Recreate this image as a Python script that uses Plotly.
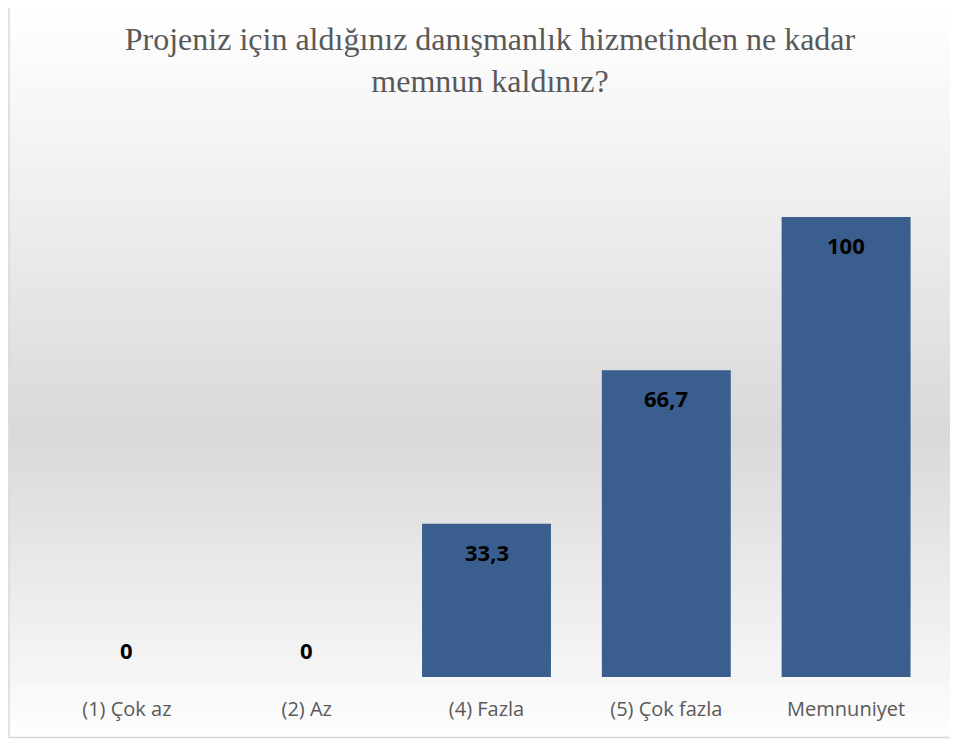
import plotly.graph_objects as go

categories = ["(1) Çok az", "(2) Az", "(4) Fazla", "(5) Çok fazla", "Memnuniyet"]
values = [0, 0, 33.3, 66.7, 100]
value_labels = ["0", "0", "33,3", "66,7", "100"]
title_text = "Projeniz için aldığınız danışmanlık hizmetinden ne kadar<br>memnun kaldınız?"

W, H = 958, 740
OFF = 8  # page body margin
ML, MR, MT = 36.5 - OFF, 21.5 + OFF, 125 - OFF
plot_h = 552
plot_w = 900
MB = H - MT - plot_h

def py(y_screen):
    y = y_screen - OFF
    return (MT + plot_h - y) / plot_h

def px(x_screen):
    x = x_screen - OFF
    return (x - ML) / plot_w

fig = go.Figure()
fig.add_trace(go.Bar(
    x=categories, y=values,
    marker=dict(color="#3A5E8E", line=dict(width=0)),
    width=0.717,
    hoverinfo="skip",
))

annotations = []
for c, v, t in zip(categories, values, value_labels):
    annotations.append(dict(
        x=c, y=v, xref="x", yref="y", text=t, showarrow=False,
        yshift=-28 if v > 0 else 27,
        font=dict(family="Open Sans", size=22, color="#000000", weight="bold"),
    ))

shapes = []
N = 80
def gray_at(y):
    top, mid, bot = 0, 430, 740
    if y <= mid:
        f = (y - top) / (mid - top)
        f = f ** 1.1
    else:
        f = (bot - y) / (bot - mid)
        f = f ** 0.9
    lo, hi = 217, 255
    return int(round(hi - (hi - lo) * f))

for i in range(N):
    y0 = i * H / N
    y1 = (i + 1) * H / N
    g = gray_at((y0 + y1) / 2)
    shapes.append(dict(type="rect", xref="paper", yref="paper",
                       x0=px(8), x1=px(W + 10), y0=py(y1 + 0.5), y1=py(y0),
                       fillcolor=f"rgb({g},{g},{g})", line=dict(width=0), layer="below"))

shapes.append(dict(type="rect", xref="paper", yref="paper",
                   x0=px(8.5), x1=px(W + 20), y0=py(737.5), y1=py(-20),
                   fillcolor="rgba(0,0,0,0)", line=dict(color="#D9D9D9", width=1.5), layer="above"))

fig.update_layout(
    width=W, height=H,
    margin=dict(l=ML, r=MR, t=MT, b=MB, pad=0),
    paper_bgcolor="#FFFFFF",
    plot_bgcolor="rgba(0,0,0,0)",
    title=dict(text=title_text, x=(490 - OFF) / W, xanchor="center",
               y=1 - (50 - OFF) / H, yanchor="middle",
               font=dict(family="Liberation Serif, 'Times New Roman', serif", size=32, color="#595959")),
    xaxis=dict(showgrid=False, showline=False, zeroline=False,
               ticks="outside", ticklen=14, tickcolor="rgba(0,0,0,0)",
               tickfont=dict(family="Open Sans", size=20, color="#595959"),
               range=[-0.5, 4.5]),
    yaxis=dict(range=[0, 120], visible=False, showgrid=False, zeroline=False),
    showlegend=False,
    shapes=shapes,
    annotations=annotations,
)

fig.write_html("out.html")
